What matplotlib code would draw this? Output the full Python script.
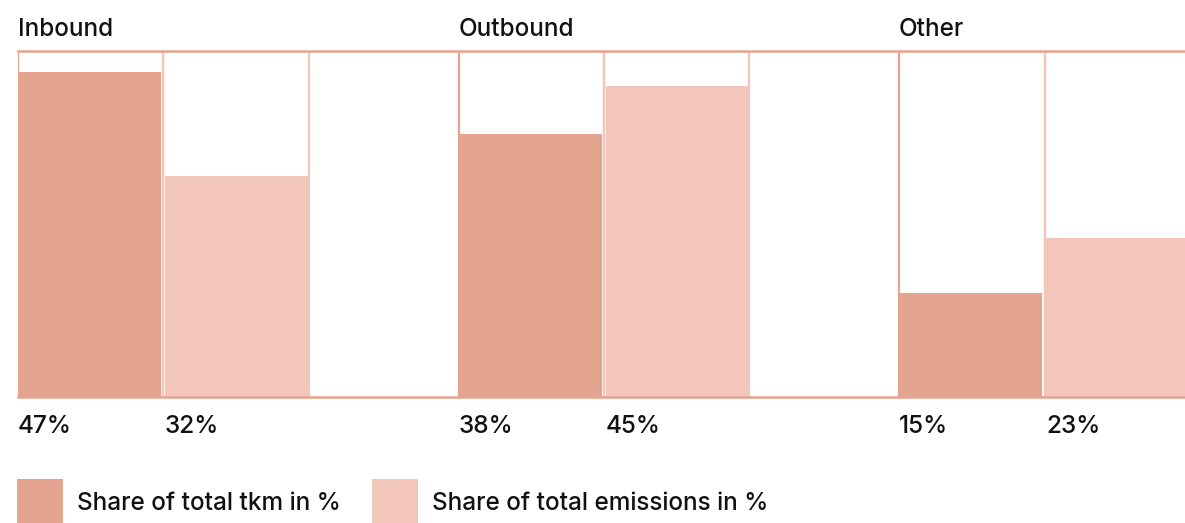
import matplotlib
matplotlib.use("Agg")
import matplotlib.pyplot as plt
from matplotlib.patches import Rectangle

groups = ["Inbound", "Outbound", "Other"]
tkm_share = [47, 38, 15]
emission_share = [32, 45, 23]
series_labels = ["Share of total tkm in %", "Share of total emissions in %"]
y_max = 50

DARK = "#E5A490"
LIGHT = "#F2C6BA"
TXT = "#111111"

plt.rcParams['font.family'] = ['Inter', 'DejaVu Sans']
FW = 'medium'
FS = 17.5

W, H = 1185, 523
fig = plt.figure(figsize=(W / 100, H / 100), dpi=100)
ax = fig.add_axes([18 / W, (H - 397) / H, (W - 18) / W, 346 / H])
ax.set_xlim(0, 1167 / 145.4)
ax.set_ylim(0, y_max)
ax.axis('off')

gstep = 3.03
for i, g in enumerate(groups):
    x0 = i * gstep
    # bars
    ax.bar(x0, tkm_share[i], width=0.985, align='edge', color=DARK, zorder=2)
    ax.bar(x0 + 1.011, emission_share[i], width=0.983, align='edge', color=LIGHT, zorder=2)
    # outline boxes
    ax.add_patch(Rectangle((x0, 0), 1, y_max, fill=False, edgecolor=DARK, lw=1.6, zorder=1))
    ax.add_patch(Rectangle((x0 + 1, 0), 1, y_max, fill=False, edgecolor=LIGHT, lw=1.6, zorder=1.5))
    # titles
    ax.annotate(g, (x0, y_max), xytext=(0, 11), textcoords='offset points',
                fontsize=FS, fontweight=FW, color=TXT, ha='left', va='baseline',
                annotation_clip=False)
    ax.annotate(f"{tkm_share[i]}%", (x0, 0), xytext=(0, -26), textcoords='offset points',
                fontsize=FS, fontweight=FW, color=TXT, ha='left', va='baseline',
                annotation_clip=False)
    ax.annotate(f"{emission_share[i]}%", (x0 + 1.011, 0), xytext=(0, -26), textcoords='offset points',
                fontsize=FS, fontweight=FW, color=TXT, ha='left', va='baseline',
                annotation_clip=False)

ax.axhline(y_max, color=DARK, lw=1.8, zorder=3, clip_on=False)
ax.axhline(0, color=DARK, lw=1.8, zorder=3, clip_on=False)

# legend
for (lx, col, lab) in [(17, DARK, series_labels[0]), (372, LIGHT, series_labels[1])]:
    fig.patches.append(Rectangle((lx / W, 0), 46 / W, (H - 479) / H, transform=fig.transFigure,
                                 facecolor=col, edgecolor='none'))
    fig.text((lx + 60) / W, (H - 510) / H, lab, fontsize=FS, fontweight=FW, color=TXT,
             ha='left', va='baseline')

fig.savefig("out.png", dpi=100)
